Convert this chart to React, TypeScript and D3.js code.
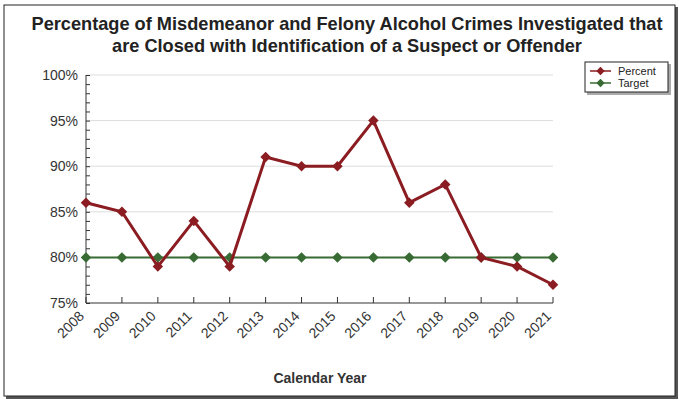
import React, { useEffect, useRef } from 'react';
import * as d3 from 'd3';

const years = [2008, 2009, 2010, 2011, 2012, 2013, 2014, 2015, 2016, 2017, 2018, 2019, 2020, 2021];
const percentValues = [86, 85, 79, 84, 79, 91, 90, 90, 95, 86, 88, 80, 79, 77];
const targetValues = [80, 80, 80, 80, 80, 80, 80, 80, 80, 80, 80, 80, 80, 80];
const yTicks = [75, 80, 85, 90, 95, 100];
const titleLines = [
  'Percentage of Misdemeanor and Felony Alcohol Crimes Investigated that',
  'are Closed with Identification of a Suspect or Offender',
];

const W = 679;
const H = 401;
const FONT = '"Liberation Sans", Arial, sans-serif';
const RED = '#8b1c21';
const GREEN = '#386b33';

const App: React.FC = () => {
  const ref = useRef<SVGSVGElement>(null);

  useEffect(() => {
    const svg = d3.select(ref.current!);
    svg.selectAll('*').remove();

    // frame with shadow
    svg.append('rect').attr('x', 6).attr('y', 7).attr('width', 672).attr('height', 392).attr('fill', '#555');
    svg.append('rect').attr('x', 4).attr('y', 5).attr('width', 671).attr('height', 391)
      .attr('fill', '#fff').attr('stroke', '#222').attr('stroke-width', 1);

    // title
    svg.append('g').selectAll('text').data(titleLines).enter().append('text')
      .attr('x', 347).attr('y', (d, i) => 30 + i * 22)
      .attr('text-anchor', 'middle')
      .attr('font-family', FONT).attr('font-size', 18.2).attr('font-weight', 'bold')
      .attr('fill', '#222')
      .text((d) => d);

    const x = d3.scaleLinear().domain([2008, 2021]).range([86, 553]);
    const y = d3.scaleLinear().domain([75, 100]).range([303, 75]);

    // gridlines
    svg.append('g').selectAll('line').data(yTicks.filter((t) => t > 75)).enter().append('line')
      .attr('x1', 86).attr('x2', 553)
      .attr('y1', (d) => y(d)).attr('y2', (d) => y(d))
      .attr('stroke', '#ddd').attr('stroke-width', 1);

    // y axis
    const yAxis = d3.axisRight(y).ticks(25).tickSize(4).tickFormat(() => '');
    const ya = svg.append('g').attr('transform', 'translate(86,0)').call(yAxis);
    ya.select('.domain').remove();
    ya.selectAll('line').attr('stroke', '#333');
    svg.append('line').attr('x1', 86).attr('x2', 86).attr('y1', 75).attr('y2', 303).attr('stroke', '#333');

    svg.append('g').selectAll('text').data(yTicks).enter().append('text')
      .attr('x', 78).attr('y', (d) => y(d) + 5)
      .attr('text-anchor', 'end')
      .attr('font-family', FONT).attr('font-size', 14).attr('fill', '#333')
      .text((d) => `${d}%`);

    // x axis
    svg.append('line').attr('x1', 86).attr('x2', 553).attr('y1', 303).attr('y2', 303).attr('stroke', '#333');
    const xg = svg.append('g');
    xg.selectAll('line').data(years).enter().append('line')
      .attr('x1', (d) => x(d)).attr('x2', (d) => x(d))
      .attr('y1', 303).attr('y2', 297).attr('stroke', '#333');
    xg.selectAll('text').data(years).enter().append('text')
      .attr('transform', (d) => `translate(${x(d) - 1},${317}) rotate(-45)`)
      .attr('text-anchor', 'end')
      .attr('font-family', FONT).attr('font-size', 14).attr('fill', '#333')
      .text((d) => d);

    svg.append('text').attr('x', 320).attr('y', 383).attr('text-anchor', 'middle')
      .attr('font-family', FONT).attr('font-size', 14).attr('font-weight', 'bold').attr('fill', '#333')
      .text('Calendar Year');

    const line = d3.line<number>().x((d, i) => x(years[i])).y((d) => y(d));
    const diamond = d3.symbol().type(d3.symbolDiamond2).size(70);

    const drawSeries = (vals: number[], color: string, width: number) => {
      svg.append('path').datum(vals).attr('d', line)
        .attr('fill', 'none').attr('stroke', color).attr('stroke-width', width);
      svg.append('g').selectAll('path').data(vals).enter().append('path')
        .attr('d', diamond)
        .attr('transform', (d, i) => `translate(${x(years[i])},${y(d)})`)
        .attr('fill', color);
    };
    drawSeries(targetValues, GREEN, 2);
    drawSeries(percentValues, RED, 3);

    // legend
    const lg = svg.append('g').attr('transform', 'translate(585,62)');
    lg.append('rect').attr('x', 2).attr('y', 2).attr('width', 84).attr('height', 31).attr('fill', '#aaa');
    lg.append('rect').attr('width', 83).attr('height', 30).attr('fill', '#fff').attr('stroke', '#222');
    const items = [{ name: 'Percent', color: RED }, { name: 'Target', color: GREEN }];
    items.forEach((it, i) => {
      const cy = 9 + i * 12;
      lg.append('line').attr('x1', 5).attr('x2', 26).attr('y1', cy).attr('y2', cy)
        .attr('stroke', it.color).attr('stroke-width', 1.5);
      lg.append('path').attr('d', d3.symbol().type(d3.symbolDiamond2).size(45)())
        .attr('transform', `translate(15.5,${cy})`).attr('fill', it.color);
      lg.append('text').attr('x', 33).attr('y', cy + 4)
        .attr('font-family', FONT).attr('font-size', 11).attr('fill', '#222').text(it.name);
    });
  }, []);

  return (
    <svg ref={ref} width={W} height={H} style={{ position: 'absolute', left: 0, top: 0, background: '#fff' }} />
  );
};

export default App;
